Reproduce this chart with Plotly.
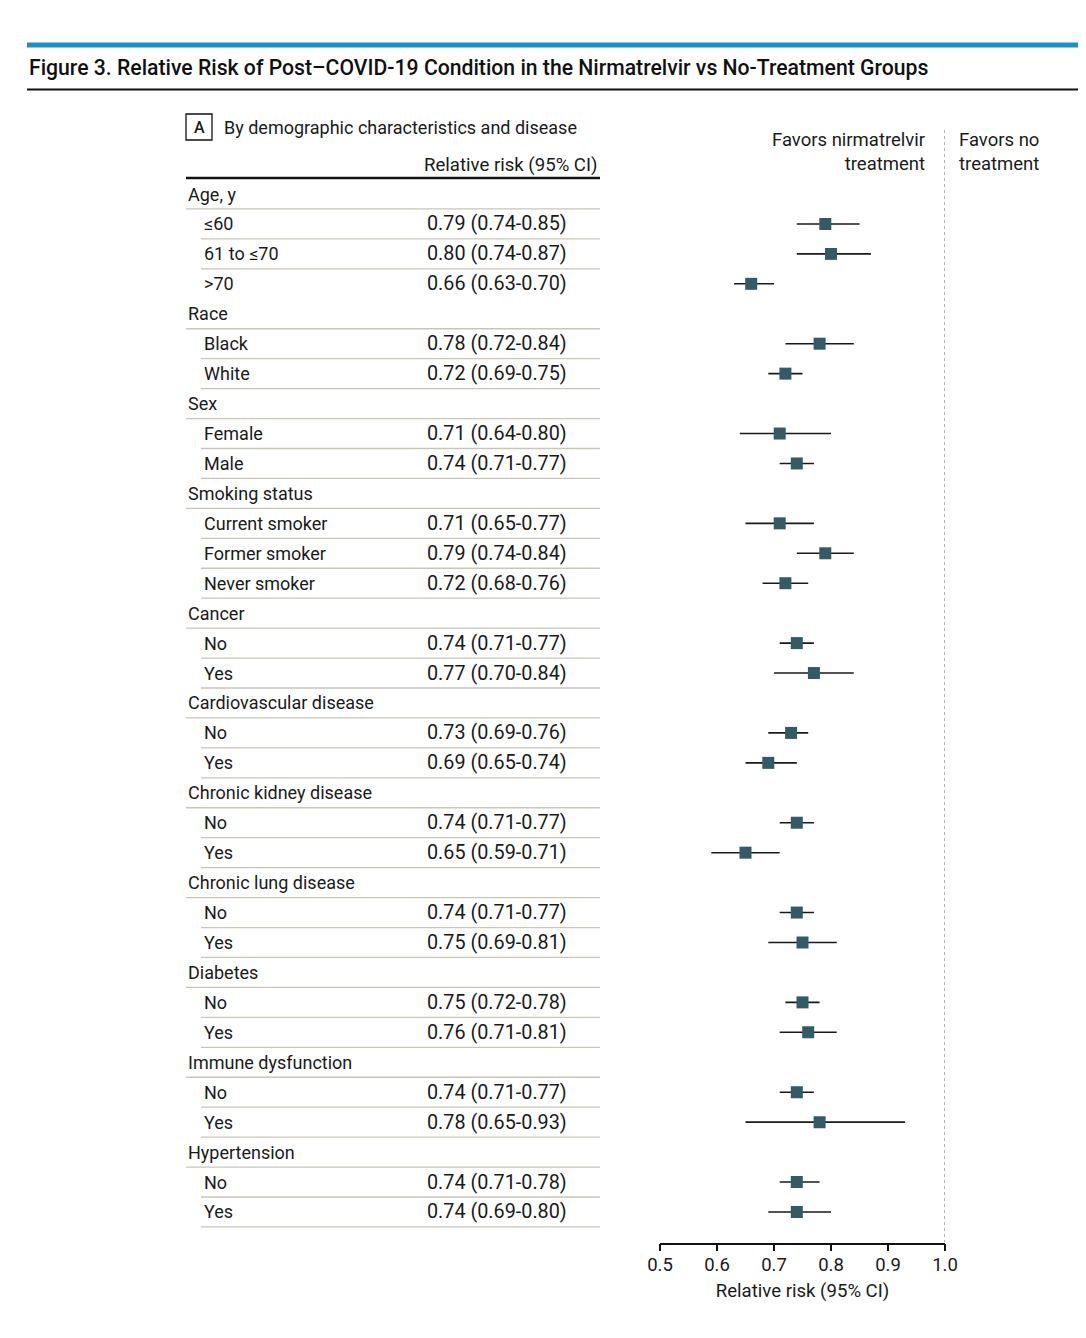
import plotly.graph_objects as go

# ---------------- data ----------------
row_labels = [
    "Age, y", "≤60", "61 to ≤70", ">70",
    "Race", "Black", "White",
    "Sex", "Female", "Male",
    "Smoking status", "Current smoker", "Former smoker", "Never smoker",
    "Cancer", "No", "Yes",
    "Cardiovascular disease", "No", "Yes",
    "Chronic kidney disease", "No", "Yes",
    "Chronic lung disease", "No", "Yes",
    "Diabetes", "No", "Yes",
    "Immune dysfunction", "No", "Yes",
    "Hypertension", "No", "Yes",
]
row_is_header = [
    True, False, False, False,
    True, False, False,
    True, False, False,
    True, False, False, False,
    True, False, False,
    True, False, False,
    True, False, False,
    True, False, False,
    True, False, False,
    True, False, False,
    True, False, False,
]
rr = [
    None, 0.79, 0.80, 0.66,
    None, 0.78, 0.72,
    None, 0.71, 0.74,
    None, 0.71, 0.79, 0.72,
    None, 0.74, 0.77,
    None, 0.73, 0.69,
    None, 0.74, 0.65,
    None, 0.74, 0.75,
    None, 0.75, 0.76,
    None, 0.74, 0.78,
    None, 0.74, 0.74,
]
ci_low = [
    None, 0.74, 0.74, 0.63,
    None, 0.72, 0.69,
    None, 0.64, 0.71,
    None, 0.65, 0.74, 0.68,
    None, 0.71, 0.70,
    None, 0.69, 0.65,
    None, 0.71, 0.59,
    None, 0.71, 0.69,
    None, 0.72, 0.71,
    None, 0.71, 0.65,
    None, 0.71, 0.69,
]
ci_high = [
    None, 0.85, 0.87, 0.70,
    None, 0.84, 0.75,
    None, 0.80, 0.77,
    None, 0.77, 0.84, 0.76,
    None, 0.77, 0.84,
    None, 0.76, 0.74,
    None, 0.77, 0.71,
    None, 0.77, 0.81,
    None, 0.78, 0.81,
    None, 0.77, 0.93,
    None, 0.78, 0.80,
]
# separator drawn below the row (the reference lacks one under ">70")
row_has_rule = [True] * len(row_labels)
row_has_rule[3] = False

x_ticks = [0.5, 0.6, 0.7, 0.8, 0.9, 1.0]
x_tick_labels = ["0.5", "0.6", "0.7", "0.8", "0.9", "1.0"]

# ---------------- layout helpers ----------------
W, H = 1086, 1338
PAGE_OFF = 8          # page body margin in the viewer
ROW0_PX, ROW_STEP = 194.0, 29.94
AXIS_PX = 1242.5


def py(p):  # screen pixel (from top) -> y data value
    return (p - ROW0_PX) / ROW_STEP


def px(p):  # screen pixel (from left) -> paper x
    return (p - PAGE_OFF) / W


BODY = "Roboto"
FS = 18
FS_VAL = 19.8
TXT = "#1a1a1a"

idx = list(range(len(row_labels)))
pts_x = [v for v in rr if v is not None]
pts_y = [i for i, v in zip(idx, rr) if v is not None]
err_p = [h - v for v, h in zip(rr, ci_high) if v is not None]
err_m = [v - l for v, l in zip(rr, ci_low) if v is not None]

fig = go.Figure()
fig.add_trace(go.Scatter(
    x=pts_x, y=pts_y, mode="markers",
    marker=dict(symbol="square", size=12, color="#335a66", line=dict(width=0)),
    error_x=dict(type="data", symmetric=False, array=err_p, arrayminus=err_m,
                 color="#1a1a1a", thickness=1.6, width=0),
    hoverinfo="skip", showlegend=False,
))

ann = []
shapes = []
for i, lab in enumerate(row_labels):
    hdr = row_is_header[i]
    ann.append(dict(x=px(186 if hdr else 202), y=i, xref="paper", yref="y",
                    text=lab, showarrow=False, xanchor="left", yanchor="middle",
                    font=dict(family=BODY, size=FS, color=TXT)))
    if rr[i] is not None:
        ann.append(dict(x=px(425), y=i, xref="paper", yref="y",
                        text=f"{rr[i]:.2f} ({ci_low[i]:.2f}-{ci_high[i]:.2f})",
                        showarrow=False, xanchor="left", yanchor="middle",
                        font=dict(family=BODY, size=FS_VAL, color=TXT)))
    if row_has_rule[i]:
        shapes.append(dict(type="line", xref="paper", yref="y",
                           x0=px(186 if hdr else 201), x1=px(600), y0=i + 0.5, y1=i + 0.5,
                           line=dict(color="#c9c5b9", width=1.3)))

# header rule & header text
shapes.append(dict(type="line", xref="paper", yref="y", x0=px(186), x1=px(600),
                   y0=py(178), y1=py(178), line=dict(color="#111", width=2.5)))
ann.append(dict(x=px(600), y=py(165), xref="paper", yref="y", text="Relative risk (95% CI)",
                showarrow=False, xanchor="right", yanchor="middle",
                font=dict(family=BODY, size=18.6, color=TXT)))
# panel label
shapes.append(dict(type="rect", xref="paper", yref="y", x0=px(186), x1=px(212),
                   y0=py(114), y1=py(140), line=dict(color="#111", width=1.3)))
ann.append(dict(x=px(199), y=py(127), xref="paper", yref="y", text="A",
                showarrow=False, xanchor="center", yanchor="middle",
                font=dict(family=BODY, size=16, color=TXT, weight=500)))
ann.append(dict(x=px(222), y=py(127), xref="paper", yref="y",
                text="By demographic characteristics and disease",
                showarrow=False, xanchor="left", yanchor="middle",
                font=dict(family=BODY, size=FS, color=TXT)))
# favors labels
ann.append(dict(x=px(927), y=py(152), xref="paper", yref="y",
                text="Favors nirmatrelvir<br>treatment", align="right",
                showarrow=False, xanchor="right", yanchor="middle",
                font=dict(family=BODY, size=18.5, color=TXT)))
ann.append(dict(x=px(957), y=py(152), xref="paper", yref="y",
                text="Favors no<br>treatment", align="left",
                showarrow=False, xanchor="left", yanchor="middle",
                font=dict(family=BODY, size=18.5, color=TXT)))
# null line
shapes.append(dict(type="line", xref="x", yref="y", x0=1.0, x1=1.0,
                   y0=py(130), y1=py(AXIS_PX), line=dict(color="#888", width=1.2, dash="dot")))
# title & rules
shapes.append(dict(type="rect", xref="paper", yref="y", x0=px(27), x1=1.02,
                   y0=py(42.5), y1=py(47.5), line=dict(width=0), fillcolor="#1a91c4"))
shapes.append(dict(type="line", xref="paper", yref="y", x0=px(27), x1=1.02,
                   y0=py(89.5), y1=py(89.5), line=dict(color="#111", width=2)))
ann.append(dict(x=px(27), y=py(67), xref="paper", yref="y",
                text="Figure 3. Relative Risk of Post–COVID-19 Condition in the Nirmatrelvir vs No-Treatment Groups",
                showarrow=False, xanchor="left", yanchor="middle",
                font=dict(family=BODY, size=21.2, color="#111", weight=500)))

fig.update_layout(
    template="none",
    autosize=False,
    width=W, height=H, margin=dict(l=0, r=0, t=0, b=0, pad=0),
    paper_bgcolor="white", plot_bgcolor="white",
    annotations=ann, shapes=shapes,
    xaxis=dict(domain=[px(660), px(945)], range=[0.5, 1.0], showgrid=False, zeroline=False,
               automargin=False,
               showline=True, linecolor="#111", linewidth=1.6,
               ticks="outside", ticklen=7, tickwidth=1.6, tickcolor="#111",
               tickvals=x_ticks, ticktext=x_tick_labels, ticklabelstandoff=-3,
               tickfont=dict(family=BODY, size=18.5, color=TXT),
               title=dict(text="Relative risk (95% CI)", standoff=9,
                          font=dict(family=BODY, size=18.6, color=TXT))),
    yaxis=dict(domain=[1 - (AXIS_PX - PAGE_OFF) / H, 1],
               range=[py(AXIS_PX), py(PAGE_OFF)], visible=False, automargin=False),
)
fig.write_html("out.html")
